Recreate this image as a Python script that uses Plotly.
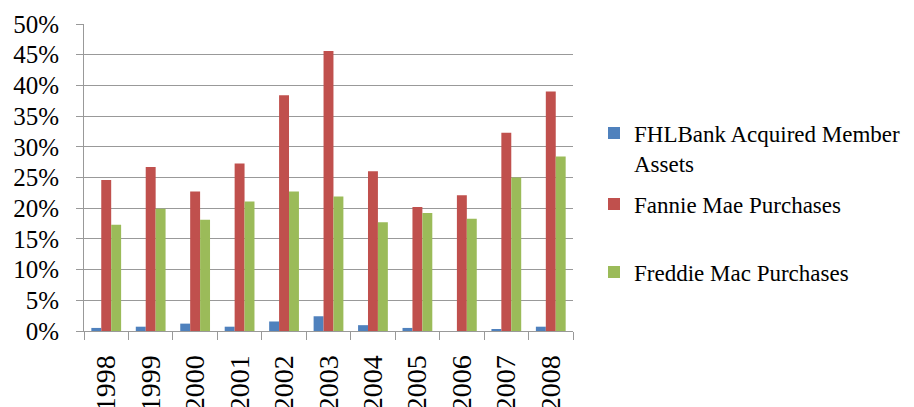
import plotly.graph_objects as go

years = ["1998", "1999", "2000", "2001", "2002", "2003", "2004", "2005", "2006", "2007", "2008"]
fhlbank = [0.5, 0.7, 1.2, 0.7, 1.55, 2.4, 0.95, 0.5, 0.0, 0.3, 0.7]
fannie = [24.6, 26.7, 22.7, 27.3, 38.4, 45.6, 26.0, 20.2, 22.1, 32.3, 39.0]
freddie = [17.3, 19.9, 18.1, 21.1, 22.7, 21.9, 17.7, 19.2, 18.3, 25.0, 28.4]

names = ["FHLBank Acquired Member<br>Assets", "Fannie Mae Purchases", "Freddie Mac Purchases"]
colors = ["#4F81BD", "#C0504D", "#9BBB59"]
series = [fhlbank, fannie, freddie]
legends = ["legend", "legend2", "legend3"]

FONT = "Liberation Serif"
W, H = 906, 399  # page body has an 8px margin

fig = go.Figure()
for nm, col, vals, lg in zip(names, colors, series, legends):
    fig.add_trace(go.Bar(
        x=years, y=[v / 100 for v in vals], name=nm,
        marker=dict(color=col, line=dict(width=0)),
        legend=lg, showlegend=True,
    ))


def leg(ypix):
    return dict(
        xref="container", yref="container", xanchor="left", yanchor="middle",
        x=(594 - 8) / W, y=1 - (ypix - 9) / H,
        font=dict(family=FONT, size=23, color="#000"),
        bgcolor="rgba(0,0,0,0)", itemwidth=30, valign="top", visible=True,
    )


fig.update_layout(
    width=W, height=H,
    margin=dict(l=84 - 8, r=W - (573 - 8), t=24 - 8, b=H - (331 - 8), autoexpand=False),
    paper_bgcolor="white", plot_bgcolor="white",
    showlegend=True,
    barmode="group", bargap=0.33, bargroupgap=0,
    font=dict(family=FONT, size=25, color="#000"),
    legend=leg(149),
    legend2=leg(205),
    legend3=leg(273),
    xaxis=dict(
        type="category", tickangle=-90, tickson="boundaries",
        ticks="outside", ticklen=8, tickcolor="#999", tickwidth=1,
        showline=True, linecolor="#999", linewidth=1,
        tickfont=dict(family=FONT, size=28, color="#000"),
        ticklabelstandoff=12, automargin=False,
    ),
    yaxis=dict(
        range=[0, 0.5], dtick=0.05, tickformat=".0%",
        ticks="outside", ticklen=7, tickcolor="#999", tickwidth=1,
        showline=True, linecolor="#999", linewidth=1,
        showgrid=True, gridcolor="#999", gridwidth=1,
        zeroline=False,
        tickfont=dict(family=FONT, size=25, color="#000"),
        ticklabelstandoff=12, automargin=False,
    ),
)

fig.write_html("out.html")
